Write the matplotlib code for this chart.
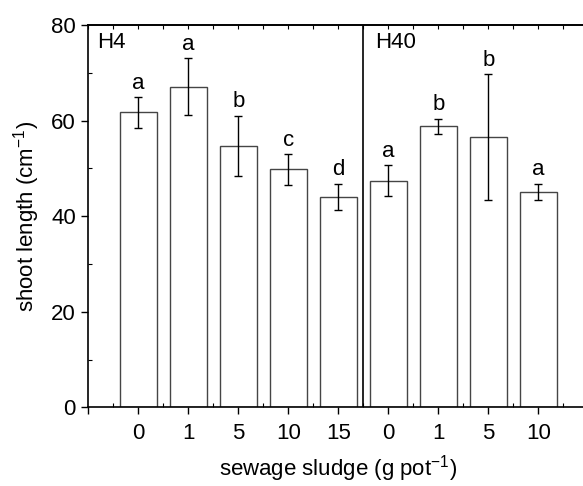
import matplotlib
matplotlib.use('Agg')
import matplotlib.pyplot as plt
import numpy as np

plt.rcParams['font.family'] = ['Liberation Sans', 'DejaVu Sans']
plt.rcParams['mathtext.default'] = 'regular'

# data
doses = ['0', '1', '5', '10', '15', '0', '1', '5', '10']
means = [61.7, 67.1, 54.7, 49.8, 44.0, 47.4, 58.8, 56.5, 45.1]
errs = [3.2, 6.0, 6.3, 3.2, 2.8, 3.2, 1.6, 13.2, 1.7]
letters = ['a', 'a', 'b', 'c', 'd', 'a', 'b', 'b', 'a']
groups = ['H4', 'H40']

fs = 16
x = np.arange(1, len(means) + 1)

fig = plt.figure(figsize=(5.83, 4.86), dpi=100)
ax = fig.add_axes([88.3 / 583, 1 - 407.3 / 486, 500 / 583, 382.3 / 486])

ax.bar(x, means, width=0.75, color='white', edgecolor='#454545', linewidth=1.0, zorder=2)
ax.errorbar(x, means, yerr=errs, fmt='none', ecolor='black', elinewidth=1.0,
            capsize=2.8, capthick=1.0, zorder=3)

for xi, m, e, l in zip(x, means, errs, letters):
    ax.annotate(l, (xi, m + e), xytext=(0, 6), textcoords='offset points',
                ha='center', va='baseline', fontsize=fs)

# divider between the two groups
ax.axvline(5.5, color='black', linewidth=1.2, zorder=4)
ax.text(0.17, 78.6, groups[0], ha='left', va='top', fontsize=fs)
ax.text(5.73, 78.6, groups[1], ha='left', va='top', fontsize=fs)

ax.set_xlim(0, 10)
ax.set_ylim(0, 80)
ax.set_xticks(np.arange(0, 10))
ax.set_xticklabels([''] + doses)
ax.set_xticks(np.arange(0.5, 10, 1), minor=True)
ax.set_yticks([0, 20, 40, 60, 80])
ax.set_yticks([10, 30, 50, 70], minor=True)

ax.tick_params(axis='both', which='major', direction='out', length=5, width=1.0,
               labelsize=fs, pad=4)
ax.tick_params(axis='both', which='minor', direction='in', length=3, width=0.8)
ax.tick_params(axis='x', which='major', pad=6)

# top axis with inward ticks every half step
top = ax.secondary_xaxis('top')
top.set_xticks(np.arange(0, 10.01, 0.5))
top.tick_params(direction='in', length=3, width=0.8, labeltop=False)

for s in ['left', 'bottom', 'top']:
    ax.spines[s].set_linewidth(1.2)
top.spines['top'].set_linewidth(1.2)
ax.spines['right'].set_visible(False)

ax.set_ylabel('shoot length (cm$^{-1}$)', fontsize=fs)
ax.set_xlabel('sewage sludge (g pot$^{-1}$)', fontsize=fs)
ax.yaxis.set_label_coords(-0.1226, 0.5)
ax.xaxis.set_label_coords(0.5, -0.2)
ax.xaxis.label.set_va('bottom')
ax.yaxis.label.set_va('center')

fig.savefig('out.png', dpi=100)
